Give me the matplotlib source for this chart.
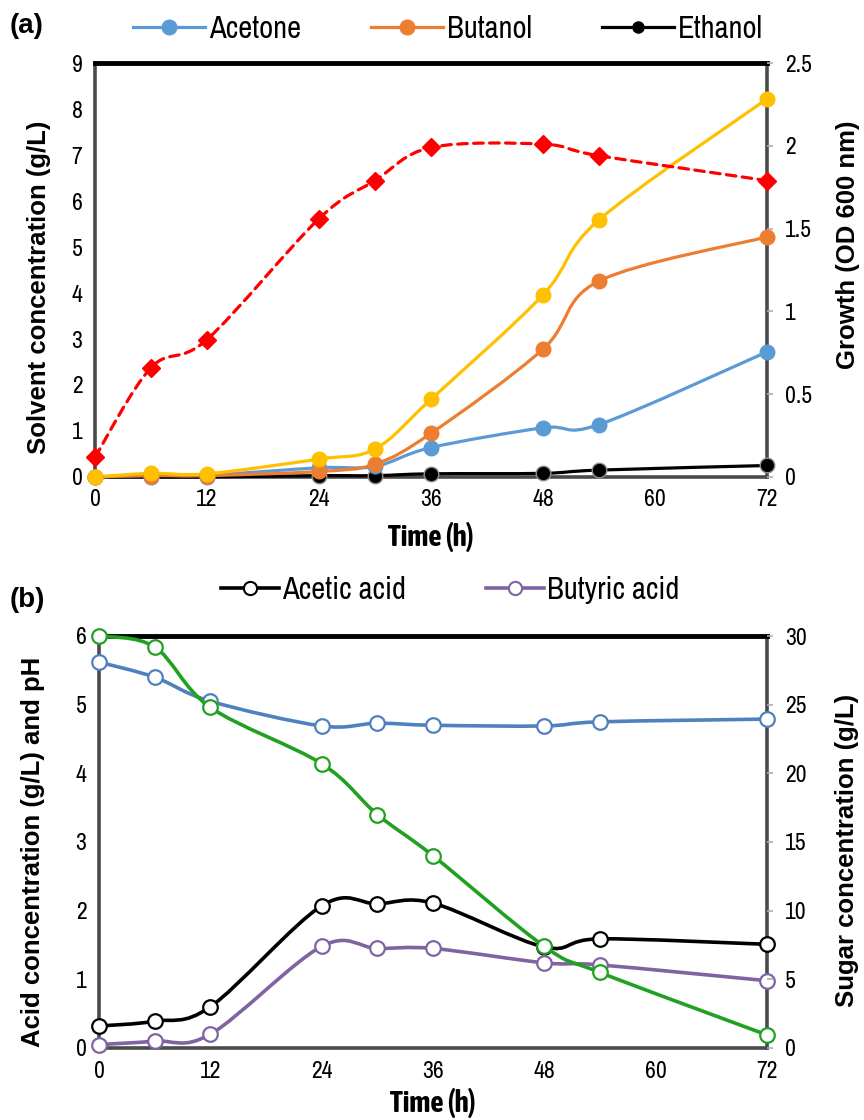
import matplotlib
matplotlib.use("Agg")
import matplotlib.pyplot as plt
import numpy as np
from matplotlib.path import Path
from matplotlib.patches import PathPatch
from matplotlib.lines import Line2D

"data read off the figure"
time_h = [0, 6, 12, 24, 30, 36, 48, 54, 72]

# panel (a) - solvents (g/L) and growth (OD 600)
acetone = [0.0, 0.04, 0.04, 0.20, 0.23, 0.64, 1.07, 1.14, 2.72]
butanol = [0.0, 0.03, 0.03, 0.12, 0.28, 0.95, 2.78, 4.26, 5.22]
ethanol = [0.0, 0.0, 0.0, 0.03, 0.03, 0.07, 0.08, 0.15, 0.25]
total_abe = [0.0, 0.08, 0.07, 0.39, 0.61, 1.69, 3.96, 5.59, 8.22]
growth_od = [0.12, 0.66, 0.83, 1.56, 1.79, 1.99, 2.01, 1.94, 1.79]

# panel (b) - acids, pH (g/L) and sugar (g/L)
ph = [5.62, 5.40, 5.05, 4.69, 4.73, 4.70, 4.69, 4.75, 4.79]
acetic = [0.32, 0.39, 0.60, 2.07, 2.10, 2.11, 1.47, 1.59, 1.51]
butyric = [0.05, 0.10, 0.20, 1.48, 1.45, 1.45, 1.24, 1.21, 0.98]
sugar = [30.0, 29.2, 24.8, 20.7, 17.0, 14.0, 7.4, 5.5, 0.95]

x_ticks = [0, 12, 24, 36, 48, 60, 72]

NARROW = ['Liberation Sans Narrow', 'Arial Narrow', 'Archivo Narrow', 'Liberation Sans', 'DejaVu Sans']
NARROW_B = ['Liberation Sans Narrow', 'Arial Narrow', 'Asap Condensed', 'Liberation Sans', 'DejaVu Sans']
BOLD = ['Liberation Sans', 'Arimo', 'DejaVu Sans']
TICK_FS = 17
LAB_FS = 18.5
LEG_FS = 22


def smooth_line(ax, x, y, **kw):
    "excel style smoothed line: cubic bezier through the points, built in display space"
    pts = ax.transData.transform(np.column_stack([x, y]))
    n = len(pts)
    verts = [pts[0]]
    codes = [Path.MOVETO]
    for i in range(n - 1):
        p0 = pts[i - 1] if i > 0 else pts[i]
        p1 = pts[i]
        p2 = pts[i + 1]
        p3 = pts[i + 2] if i + 2 < n else pts[i + 1]
        c1 = p1 + (p2 - p0) / 6.0
        c2 = p2 - (p3 - p1) / 6.0
        verts += [c1, c2, p2]
        codes += [Path.CURVE4] * 3
    verts = ax.transData.inverted().transform(np.array(verts))
    patch = PathPatch(Path(verts, codes), facecolor='none', transform=ax.transData,
                      capstyle='round', joinstyle='round', **kw)
    patch.set_clip_on(False)
    ax.add_patch(patch)


def style_frame(ax, ax2):
    for s in ['left', 'bottom', 'right']:
        ax.spines[s].set_color('#4a4a4a')
        ax.spines[s].set_linewidth(2.6)
    ax.spines['top'].set_color('black')
    ax.spines['top'].set_linewidth(3.5)
    for s in ax2.spines.values():
        s.set_visible(False)
    ax.tick_params(axis='both', length=0, labelsize=TICK_FS, pad=9)
    ax2.tick_params(axis='y', length=4, color='#b0b0b0', width=1.2, labelsize=TICK_FS, pad=9)
    for lab in ax.get_xticklabels() + ax.get_yticklabels() + ax2.get_yticklabels():
        lab.set_family(NARROW)


fig = plt.figure(figsize=(8.64, 11.2), dpi=100)

# ---------------- panel (a)
axA = fig.add_axes([95 / 864, 1 - 477 / 1120, 672 / 864, 414 / 1120])
axA2 = axA.twinx()
axA.set_xlim(0, 72)
axA.set_ylim(0, 9)
axA2.set_ylim(0, 2.5)
axA.set_xticks(x_ticks)
axA.set_yticks(range(0, 10))
axA2.set_yticks([0, 0.5, 1, 1.5, 2, 2.5])
axA2.set_yticklabels(['0', '0.5', '1', '1.5', '2', '2.5'])
style_frame(axA, axA2)

series_a = [(ethanol, 'black'), (acetone, '#5B9BD5'), (butanol, '#ED7D31'), (total_abe, '#FFC000')]
for vals, col in series_a:
    smooth_line(axA, time_h, vals, edgecolor=col, linewidth=2.3, zorder=3)
for vals, col in series_a:
    axA.plot(time_h, vals, linestyle='none', marker='o', markersize=10.5,
             color=col, markeredgecolor=col if col != 'black' else '#909090',
             markeredgewidth=1.0, clip_on=False, zorder=4)
smooth_line(axA2, time_h, growth_od, edgecolor='#FF0000', linewidth=2.3,
            linestyle=(0, (3, 2)), zorder=3)
axA2.plot(time_h, growth_od, linestyle='none', marker='D', markersize=9,
          color='#FF0000', clip_on=False, zorder=4)

axA.set_xlabel('Time (h)', fontsize=21, fontweight='bold', family=NARROW_B, va='center')
axA.xaxis.set_label_coords(0.5, -0.145)
axA.set_ylabel('Solvent concentration (g/L)', fontsize=LAB_FS, fontweight='bold', family=BOLD)
axA.yaxis.set_label_coords(-0.066, 0.457)
axA2.set_ylabel('Growth (OD 600 nm)', fontsize=LAB_FS, fontweight='bold', family=BOLD)
axA2.yaxis.set_label_coords(1.103, 0.56)

handles_a = [Line2D([], [], color=c, lw=2.3, marker='o', markersize=10.5,
                    markeredgecolor=c) for c in ['#5B9BD5', '#ED7D31', 'black']]
handles_a[2].set_markersize(8)
fig.legend(handles_a, ['Acetone', 'Butanol', 'Ethanol'], loc='center',
           bbox_to_anchor=(448 / 864, 1 - 29 / 1120), ncol=3, frameon=False,
           prop={'family': NARROW, 'size': LEG_FS}, handlelength=2.35,
           handletextpad=0.12, columnspacing=2.3)
fig.text(10 / 864, 1 - 26 / 1120, '(a)', fontsize=20, fontweight='bold',
         family=BOLD, va='center', ha='left')

# ---------------- panel (b)
axB = fig.add_axes([99 / 864, 1 - 1048 / 1120, 668 / 864, 412 / 1120])
axB2 = axB.twinx()
axB.set_xlim(0, 72)
axB.set_ylim(0, 6)
axB2.set_ylim(0, 30)
axB.set_xticks(x_ticks)
axB.set_yticks(range(0, 7))
axB2.set_yticks(range(0, 31, 5))
style_frame(axB, axB2)

series_b = [(axB, ph, '#4F81BD'), (axB, acetic, 'black'), (axB, butyric, '#8064A2'),
            (axB2, sugar, '#21A121')]
for ax, vals, col in series_b:
    smooth_line(ax, time_h, vals, edgecolor=col, linewidth=2.6, zorder=3)
    ax.plot(time_h, vals, linestyle='none', marker='o', markersize=10.5,
            markerfacecolor='white', markeredgecolor=col, markeredgewidth=1.6,
            clip_on=False, zorder=4)

axB.set_xlabel('Time (h)', fontsize=21, fontweight='bold', family=NARROW_B, va='center')
axB.xaxis.set_label_coords(0.5, -0.134)
axB.set_ylabel('Acid concentration (g/L) and pH', fontsize=LAB_FS, fontweight='bold', family=BOLD)
axB.yaxis.set_label_coords(-0.081, 0.476)
axB2.set_ylabel('Sugar concentration (g/L)', fontsize=LAB_FS, fontweight='bold', family=BOLD)
axB2.yaxis.set_label_coords(1.102, 0.48)

handles_b = [Line2D([], [], color=c, lw=2.6, marker='o', markersize=9.5,
                    markerfacecolor='white', markeredgecolor=c, markeredgewidth=1.5)
             for c in ['black', '#8064A2']]
fig.legend(handles_b, ['Acetic acid', 'Butyric acid'], loc='center',
           bbox_to_anchor=(450 / 864, 1 - 590 / 1120), ncol=2, frameon=False,
           prop={'family': NARROW, 'size': LEG_FS}, handlelength=1.9,
           handletextpad=0.1, columnspacing=2.6)
fig.text(10 / 864, 1 - 600 / 1120, '(b)', fontsize=20, fontweight='bold',
         family=BOLD, va='center', ha='left')

fig.savefig('out.png', dpi=100)
